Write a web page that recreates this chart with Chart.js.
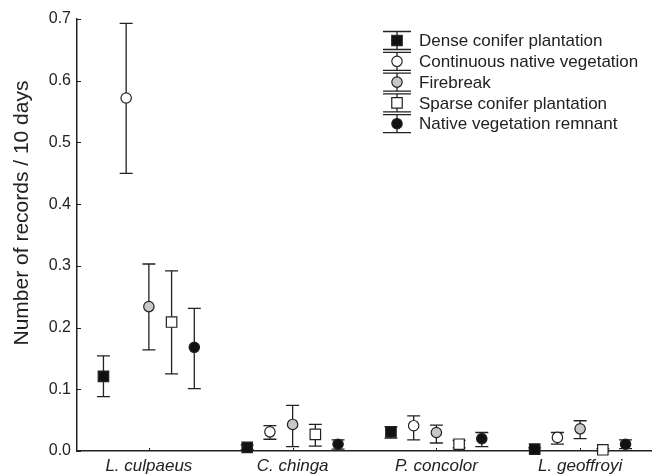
<!DOCTYPE html>
<html>
<head>
<meta charset="utf-8">
<script src="https://cdn.jsdelivr.net/npm/chart.js@4.4.0/dist/chart.umd.min.js"></script>
<style>
  html, body { margin: 0; padding: 0; background: #fff; }
  #wrap { width: 652px; height: 475px; }
</style>
</head>
<body>
<div id="wrap"><canvas id="myChart" width="652" height="475"></canvas></div>
<script>
// species on the x axis
const species = ['L. culpaeus', 'C. chinga', 'P. concolor', 'L. geoffroyi'];
const habitats = ['Dense conifer plantation', 'Continuous native vegetation', 'Firebreak',
                  'Sparse conifer plantation', 'Native vegetation remnant'];
const yTicks = [0, 0.1, 0.2, 0.3, 0.4, 0.5, 0.6, 0.7];

// mean and error bar ends, one value per species
const denseMean  = [0.121, 0.006, 0.031, 0.003];
const denseUpper = [0.154, 0.010, 0.039, 0.005];
const denseLower = [0.088, 0.002, 0.021, 0.001];

const continuousMean  = [0.572, 0.031, 0.041, 0.022];
const continuousUpper = [0.693, 0.041, 0.057, 0.030];
const continuousLower = [0.450, 0.019, 0.018, 0.011];

const firebreakMean  = [0.234, 0.043, 0.030, 0.036];
const firebreakUpper = [0.303, 0.074, 0.042, 0.049];
const firebreakLower = [0.164, 0.007, 0.013, 0.020];

const sparseMean  = [0.209, 0.027, 0.011, 0.002];
const sparseUpper = [0.292, 0.043, 0.017, 0.004];
const sparseLower = [0.125, 0.008, 0.005, 0.000];

const remnantMean  = [0.168, 0.011, 0.020, 0.011];
const remnantUpper = [0.231, 0.018, 0.030, 0.018];
const remnantLower = [0.101, 0.003, 0.007, 0.004];

const FONT = "'Liberation Sans', Arial, sans-serif";
const INK = '#222';
const spread = 0.158; // gap between habitats inside one species group

const styles = [
    { shape: 'rect',   fill: '#111', radius: 7.4 },
    { shape: 'circle', fill: '#fff', radius: 5.2 },
    { shape: 'circle', fill: '#c8c8c8', radius: 5.2 },
    { shape: 'rect',   fill: '#fff', radius: 7.4 },
    { shape: 'circle', fill: '#111', radius: 5.2 },
];
const means  = [denseMean, continuousMean, firebreakMean, sparseMean, remnantMean];
const uppers = [denseUpper, continuousUpper, firebreakUpper, sparseUpper, remnantUpper];
const lowers = [denseLower, continuousLower, firebreakLower, sparseLower, remnantLower];

const datasets = habitats.map((name, i) => ({
    label: name,
    data: means[i].map((v, j) => ({ x: j + 1 + (i - 2) * spread, y: v, hi: uppers[i][j], lo: lowers[i][j] })),
    pointStyle: styles[i].shape,
    pointRadius: styles[i].radius,
    pointBackgroundColor: styles[i].fill,
    pointBorderColor: INK,
    pointBorderWidth: 1.2,
    showLine: false,
    clip: false,
}));

function drawMarker(ctx, st, x, y) {
    Chart.helpers.drawPoint(ctx, {
        pointStyle: st.shape, radius: st.radius, borderWidth: 1.2
    }, x, y);
}

const errorBars = {
    id: 'errorBars',
    beforeDatasetsDraw(chart) {
        const { ctx, scales: { x, y } } = chart;
        ctx.save();
        ctx.strokeStyle = INK;
        ctx.lineWidth = 1.3;
        chart.data.datasets.forEach(ds => {
            ds.data.forEach(p => {
                const px = x.getPixelForValue(p.x);
                const top = y.getPixelForValue(p.hi);
                const bot = y.getPixelForValue(p.lo);
                ctx.beginPath();
                ctx.moveTo(px, top); ctx.lineTo(px, bot);
                ctx.moveTo(px - 6.5, top); ctx.lineTo(px + 6.5, top);
                ctx.moveTo(px - 6.5, bot); ctx.lineTo(px + 6.5, bot);
                ctx.stroke();
            });
        });
        ctx.restore();
    },
    afterDraw(chart) {
        const { ctx, chartArea, scales: { x, y } } = chart;
        ctx.save();
        // inward tick marks
        ctx.strokeStyle = INK;
        ctx.lineWidth = 1;
        ctx.beginPath();
        yTicks.forEach(v => {
            const py = Math.round(y.getPixelForValue(v)) + 0.5;
            ctx.moveTo(chartArea.left, py); ctx.lineTo(chartArea.left + 4, py);
        });
        species.forEach((s, j) => {
            const px = Math.round(x.getPixelForValue(j + 1)) + 0.5;
            ctx.moveTo(px, chartArea.bottom); ctx.lineTo(px, chartArea.bottom - 3);
        });
        ctx.stroke();

        // y axis title
        ctx.fillStyle = INK;
        ctx.font = '21px ' + FONT;
        ctx.textAlign = 'center';
        ctx.textBaseline = 'middle';
        ctx.translate(22, 213);
        ctx.rotate(-Math.PI / 2);
        ctx.fillText('Number of records / 10 days', 0, 0);
        ctx.setTransform(1, 0, 0, 1, 0, 0);

        // legend with error bar symbols
        ctx.font = '17px ' + FONT;
        ctx.textAlign = 'left';
        habitats.forEach((name, i) => {
            const ly = 40.5 + i * 20.8;
            const lx = 397;
            ctx.strokeStyle = INK;
            ctx.lineWidth = 1.3;
            ctx.beginPath();
            ctx.moveTo(lx, ly - 9); ctx.lineTo(lx, ly + 9);
            ctx.moveTo(lx - 14, ly - 9); ctx.lineTo(lx + 14, ly - 9);
            ctx.moveTo(lx - 14, ly + 9); ctx.lineTo(lx + 14, ly + 9);
            ctx.stroke();
            ctx.fillStyle = styles[i].fill;
            ctx.strokeStyle = INK;
            ctx.lineWidth = 1.2;
            drawMarker(ctx, styles[i], lx, ly);
            ctx.fillStyle = INK;
            ctx.fillText(name, 419, ly + 1);
        });
        ctx.restore();
    }
};

const ctx = document.getElementById('myChart').getContext('2d');
const myChart = new Chart(ctx, {
    type: 'scatter',
    data: { datasets },
    options: {
        responsive: false,
        animation: false,
        devicePixelRatio: 1,
        layout: { autoPadding: false, padding: { top: 19, right: 0, bottom: 0, left: 0 } },
        plugins: { legend: { display: false }, tooltip: { enabled: false } },
        scales: {
            x: {
                type: 'linear',
                min: 0.5,
                max: 4.5,
                afterBuildTicks: axis => { axis.ticks = species.map((s, j) => ({ value: j + 1 })); },
                afterFit: axis => { axis.height = 24; axis.paddingLeft = 0; axis.paddingRight = 0; },
                grid: { display: false, drawTicks: false },
                border: { display: true, color: INK, width: 1.5 },
                ticks: {
                    padding: 5,
                    color: INK,
                    maxRotation: 0,
                    font: { family: FONT, size: 17, style: 'italic' },
                    callback: v => species[v - 1],
                },
            },
            y: {
                min: 0,
                max: 0.7,
                afterBuildTicks: axis => { axis.ticks = yTicks.map(v => ({ value: v })); },
                afterFit: axis => { axis.width = 77; },
                grid: { display: false, drawTicks: false },
                border: { display: true, color: INK, width: 1.5 },
                ticks: {
                    padding: 6,
                    color: INK,
                    font: { family: FONT, size: 16 },
                    callback: v => v.toFixed(1),
                },
            },
        },
    },
    plugins: [errorBars],
});
</script>
</body>
</html>
